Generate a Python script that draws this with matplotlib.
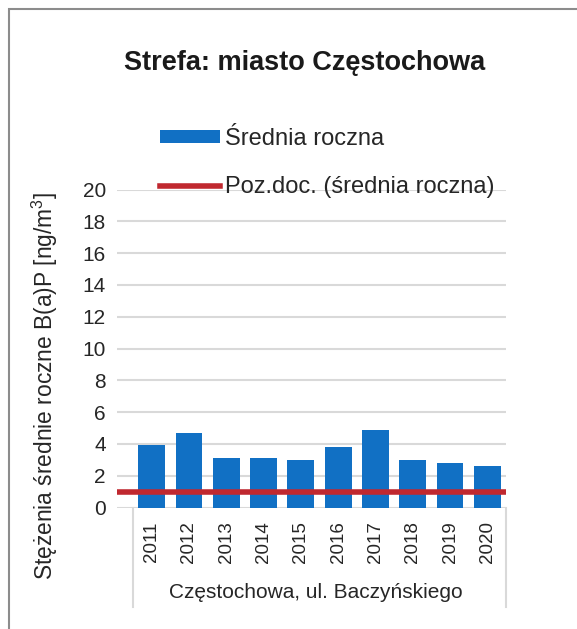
import matplotlib
matplotlib.use("Agg")
import matplotlib.pyplot as plt
from matplotlib.patches import Rectangle
from matplotlib.lines import Line2D
import matplotlib.transforms as mtransforms

plt.rcParams['font.family'] = ['Liberation Sans', 'DejaVu Sans']
plt.rcParams['mathtext.fontset'] = 'custom'
plt.rcParams['mathtext.rm'] = 'Liberation Sans'
plt.rcParams['mathtext.it'] = 'Liberation Sans:italic'

# data
years = ['2011', '2012', '2013', '2014', '2015', '2016', '2017', '2018', '2019', '2020']
annual_mean = [3.9, 4.7, 3.1, 3.1, 3.0, 3.8, 4.9, 3.0, 2.8, 2.6]
limit_value = 1.0
station = 'Częstochowa, ul. Baczyńskiego'
yticks = [0, 2, 4, 6, 8, 10, 12, 14, 16, 18, 20]

W, H = 577, 629
fig = plt.figure(figsize=(W / 100, H / 100), dpi=100)

# outer chart frame (open to right/bottom like the cropped screenshot)
fig.patches.append(Rectangle((9 / W, -0.1), 1.2, 1 - 9 / H + 0.1, transform=fig.transFigure,
                             fill=False, edgecolor='#8c8c8c', linewidth=1.5))

ax = fig.add_axes([117 / W, (H - 507.5) / H, (506 - 117) / W, (507.5 - 189.5) / H])

x = list(range(len(years)))
bars = ax.bar(x, annual_mean, width=0.72, color='#1170c4', zorder=2, label='Średnia roczna')
lim = ax.axhline(limit_value, color='#c0282f', linewidth=4, zorder=3,
                 label='Poz.doc. (średnia roczna)')

ax.set_xlim(-0.93, 9.5)
ax.set_ylim(0, 20)
ax.set_yticks(yticks)
ax.yaxis.grid(True, color='#d9d9d9', linewidth=1.5, zorder=0)
ax.set_axisbelow(True)
for s in ax.spines.values():
    s.set_visible(False)

ax.set_xticks(x)
ax.set_xticklabels(years, rotation=90, fontsize=13.5, color='#262626')
ax.tick_params(axis='x', length=0, pad=10)
ax.tick_params(axis='y', length=0, pad=8, labelsize=15, labelcolor='#262626')

# category separators below the axis
trans = mtransforms.blended_transform_factory(ax.transData, ax.transAxes)
for xv in (-0.5, 9.5):
    ax.add_line(Line2D([xv, xv], [0, -0.314], transform=trans, color='#d9d9d9',
                       linewidth=1.5, clip_on=False))

fig.text(316 / W, 1 - 593 / H, station, ha='center', va='center', fontsize=15, color='#262626')
fig.text(45 / W, 1 - 386 / H, 'Stężenia średnie roczne B(a)P [ng/m$^3$]', rotation=90,
         ha='center', va='center', fontsize=16.4, color='#262626')
fig.text(305 / W, 1 - 63 / H, 'Strefa: miasto Częstochowa', ha='center', va='center',
         fontsize=19.5, fontweight='bold', color='#1a1a1a')

fig.legend(handles=[bars, lim], loc='upper left', bbox_to_anchor=(160 / W, 1 - 128 / H),
           frameon=False, fontsize=17, borderpad=0, borderaxespad=0, handlelength=2.55,
           handleheight=0.45, handletextpad=0.22, labelspacing=1.1, labelcolor='#262626')

fig.savefig('out.png', dpi=100, facecolor='white')
